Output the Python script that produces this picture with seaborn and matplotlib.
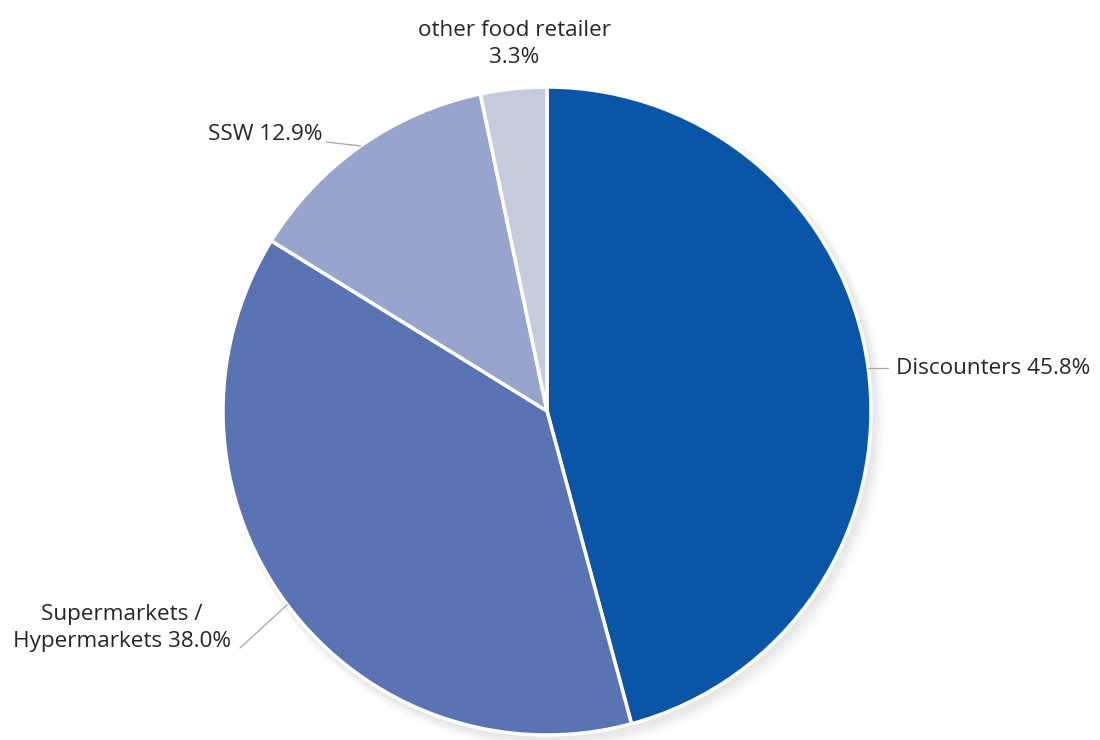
import numpy as np
import matplotlib
matplotlib.use("Agg")
import matplotlib.pyplot as plt
import seaborn as sns

# Market share of food retail formats
categories = ["Discounters", "Supermarkets /\nHypermarkets", "SSW", "other food retailer"]
shares = [45.8, 38.0, 12.9, 3.3]
colors = ["#0B55A6", "#5A73B3", "#97A4CB", "#C6CCDE"]

sns.set_theme(style="white")
plt.rcParams["font.family"] = ["Open Sans", "DejaVu Sans"]

W, H = 1100, 740
fig = plt.figure(figsize=(W / 100, H / 100), dpi=100)
ax = fig.add_axes([0, 0, 1, 1])

cx, cy, r = 547, H - 411, 324

# soft drop shadow behind the pie
for i, a in enumerate(np.linspace(0.05, 0.01, 6)):
    ax.add_patch(plt.Circle((cx + 3 + i, cy - 4 - i), r + 2 + i, color="#888888",
                            alpha=a, lw=0, zorder=0))

wedges, _ = ax.pie(shares, colors=colors, startangle=90, counterclock=False,
                   center=(cx, cy), radius=r,
                   wedgeprops=dict(edgecolor="white", linewidth=2.5))
for w in wedges:
    w.set_zorder(2)

# pixel-like data frame for the whole canvas
ax.set_xlim(0, W)
ax.set_ylim(0, H)
ax.set_aspect("equal")
ax.axis("off")

txt = dict(fontsize=16.2, color="#262626", zorder=5)
line = dict(color="#a6a6a6", lw=0.9, zorder=4)

def edge(w, frac):
    ang = np.deg2rad(w.theta1 + (w.theta2 - w.theta1) * frac)
    return cx + r * np.cos(ang), cy + r * np.sin(ang)

labels = [f"{c} {s:.1f}%" for c, s in zip(categories, shares)]

# Discounters (right)
ex, ey = edge(wedges[0], 0.5)
ax.plot([ex, ex + 20], [ey, ey], **line)
ax.text(ex + 28, ey, labels[0], ha="left", va="center", **txt)

# Supermarkets / Hypermarkets (lower left)
ex, ey = edge(wedges[1], 0.5)
ax.plot([ex, 240], [ey, H - 648], **line)
ax.text(122, H - 628, labels[1], ha="center", va="center", multialignment="center",
        linespacing=1.4, **txt)

# SSW (upper left)
ex, ey = edge(wedges[2], 0.5)
ax.plot([ex, 326], [ey, H - 142], **line)
ax.text(322, H - 134, labels[2], ha="right", va="center", **txt)

# other food retailer (top)
ax.text(514, H - 44, f"{categories[3]}\n{shares[3]:.1f}%", ha="center", va="center",
        linespacing=1.4, **txt)

fig.savefig("out.png", dpi=100, facecolor="white")
